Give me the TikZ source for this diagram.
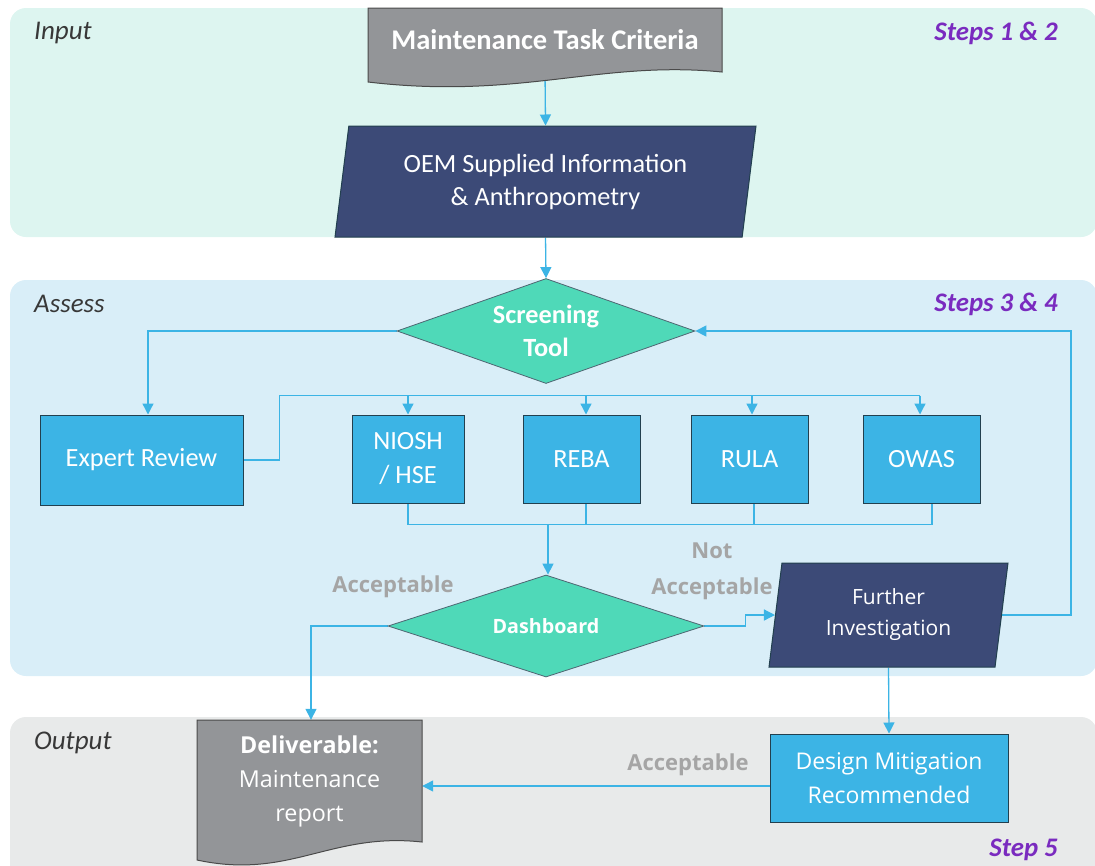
\documentclass[tikz,border=0pt]{standalone}
\usepackage{fontspec}
\setmainfont{Carlito}
\newfontfamily\segoe{Open Sans}
\usetikzlibrary{shapes.geometric,arrows.meta,calc}
\definecolor{bandin}{HTML}{DDF5F0}
\definecolor{bandas}{HTML}{D9EEF8}
\definecolor{bandout}{HTML}{E8EAEA}
\definecolor{docgray}{HTML}{939598}
\definecolor{docedge}{HTML}{4A4A4A}
\definecolor{navy}{HTML}{3C4A77}
\definecolor{tealc}{HTML}{4FD9B8}
\definecolor{boxblue}{HTML}{3CB4E5}
\definecolor{linec}{HTML}{3CB4E5}
\definecolor{lblgray}{HTML}{A5A5A5}
\definecolor{purp}{HTML}{7A2BBF}
\definecolor{edgec}{HTML}{22404F}
\definecolor{bandtxt}{HTML}{383838}
\pgfdeclarelayer{bands}
\pgfdeclarelayer{lines}
\pgfsetlayers{bands,lines,main}
\begin{document}
\begin{tikzpicture}[x=1pt,y=-1pt,
  cal/.style={font=\fontsize{26.3}{33}\selectfont},
  box/.style={draw=edgec, line width=1pt, fill=boxblue, text=white, align=center, inner sep=0pt, cal},
  para/.style={trapezium, trapezium left angle=76, trapezium right angle=104, trapezium stretches body,
               draw=edgec, line width=1pt, fill=navy, text=white, align=center, inner sep=0pt},
  dia/.style={diamond, draw=edgec!80, line width=0.8pt, fill=tealc, text=white, align=center, inner sep=0pt},
  doctext/.style={text=white, align=center, inner sep=0pt},
  docshape/.style={fill=docgray, draw=docedge, line width=1pt},
  conn/.style={draw=linec, line width=1.3pt},
  arr/.style={conn, -{Triangle[length=11pt,width=11pt]}},
  lbl/.style={text=lblgray, align=center, inner sep=0pt, font=\segoe\bfseries\fontsize{22}{36}\selectfont},
  bandlbl/.style={text=bandtxt, inner sep=0pt, font=\itshape\fontsize{27}{30}\selectfont},
  steplbl/.style={text=purp, inner sep=0pt, font=\bfseries\itshape\fontsize{26.8}{30}\selectfont}]
\useasboundingbox (0,0) rectangle (1095,865);
\clip (0,0) rectangle (1095,865);

% bands
\begin{pgfonlayer}{bands}
\fill[bandin, rounded corners=16pt] (10,8) rectangle (1097,237);
\fill[bandas, rounded corners=16pt] (10,280) rectangle (1097,676);
\fill[bandout, rounded corners=16pt] (10,717) rectangle (1097,900);
\end{pgfonlayer}

\node[bandlbl, anchor=west] (linput) at (34,33) {Input};
\node[bandlbl, anchor=west] (lassess) at (34,304) {Assess};
\node[bandlbl, anchor=west] (loutput) at (34,743) {Output};
\node[steplbl, anchor=east] (s12) at (1058,33) {Steps 1 \& 2};
\node[steplbl, anchor=east] (s34) at (1058,304) {Steps 3 \& 4};
\node[steplbl, anchor=east] (s5) at (1058,850) {Step 5};

% document shapes
\path[docshape] (368,8) -- (722,8) -- (722,72) .. controls (600,60) and (520,100) .. (368,82) -- cycle;
\node[doctext, font=\bfseries\fontsize{28.5}{30}\selectfont, minimum width=354, minimum height=64] (mtc) at (545,40) {Maintenance Task Criteria};

\path[docshape] (197,720) -- (422,720) -- (422,842) .. controls (330,832) and (290,880) .. (197,860) -- cycle;
\node[doctext, font=\segoe\fontsize{23.3}{34}\selectfont, minimum width=225, minimum height=122] (deliv) at (309.5,781) {\textbf{Deliverable:}\\Maintenance\\report};

% main nodes
\node[para, cal, minimum width=421, minimum height=111] (oem) at (545.5,181.5) {OEM Supplied Information\\\& Anthropometry};
\node[dia, minimum width=298, minimum height=105, aspect=2.84, font=\bfseries\fontsize{26.3}{33}\selectfont] (screen) at (546,331) {Screening\\Tool};
\node[box, minimum width=203, minimum height=90] (expert) at (141.5,460) {Expert Review};
\node[box, minimum width=112, minimum height=88, font=\fontsize{26.3}{34}\selectfont] (niosh) at (408,459) {NIOSH\\/ HSE};
\node[box, minimum width=117, minimum height=88] (reba) at (581.5,459) {REBA};
\node[box, minimum width=117, minimum height=88] (rula) at (749.5,459) {RULA};
\node[box, minimum width=117, minimum height=88] (owas) at (921.5,459) {OWAS};
\node[dia, minimum width=316, minimum height=102, aspect=3.1, font=\segoe\bfseries\fontsize{19.7}{23}\selectfont] (dash) at (546,626) {Dashboard};
\node[para, minimum width=239, minimum height=104, font=\segoe\fontsize{21}{31}\selectfont] (fi) at (888.5,615) {Further\\Investigation};
\node[box, minimum width=238, minimum height=88, font=\segoe\fontsize{23}{34}\selectfont] (dm) at (889,778) {Design Mitigation\\Recommended};

% labels
\node[lbl] (acc1) at (393,587) {Acceptable};
\node[lbl] (nacc) at (712,571) {Not\\Acceptable};
\node[lbl] (acc2) at (688,765) {Acceptable};

% connectors
\begin{pgfonlayer}{lines}
\draw[arr] (mtc.south) -- (oem.north);
\draw[arr] (oem.south) -- (screen.north);
\draw[arr] (screen.west) -| ([xshift=6.5pt]expert.north);
\draw[conn] (expert.east) -- ++(36,0) |- ([xshift=-1.5pt,yshift=19pt]owas.north);
\draw[arr] ([yshift=19pt]niosh.north) -- (niosh.north);
\draw[arr] ([xshift=4.5pt,yshift=19pt]reba.north) -- ([xshift=4.5pt]reba.north);
\draw[arr] ([xshift=2.5pt,yshift=19pt]rula.north) -- ([xshift=2.5pt]rula.north);
\draw[arr] ([xshift=-1.5pt,yshift=19pt]owas.north) -- ([xshift=-1.5pt]owas.north);
\draw[conn] (niosh.south) |- ([xshift=10.5pt,yshift=-21pt]owas.south) -- ([xshift=10.5pt]owas.south);
\draw[conn] ([xshift=4.5pt]reba.south) -- ([xshift=4.5pt,yshift=-21pt]reba.south);
\draw[conn] ([xshift=4.5pt]rula.south) -- ([xshift=4.5pt,yshift=-21pt]rula.south);
\draw[arr] ([xshift=2pt]dash.north |- 0,524) -- ([xshift=2pt]dash.north);
\draw[arr] (dash.west) -| ([xshift=1.5pt]deliv.north);
\draw[arr] (dash.east) -- ++(41,0) |- (fi.west);
\draw[arr] (fi.east) -- ++(69,0) |- (screen.east);
\draw[arr] (fi.south) -- (dm.north);
\draw[arr] ([yshift=-8pt]dm.west) -- ([yshift=-8pt]dm.west -| deliv.east);
\end{pgfonlayer}
\end{tikzpicture}
\end{document}
